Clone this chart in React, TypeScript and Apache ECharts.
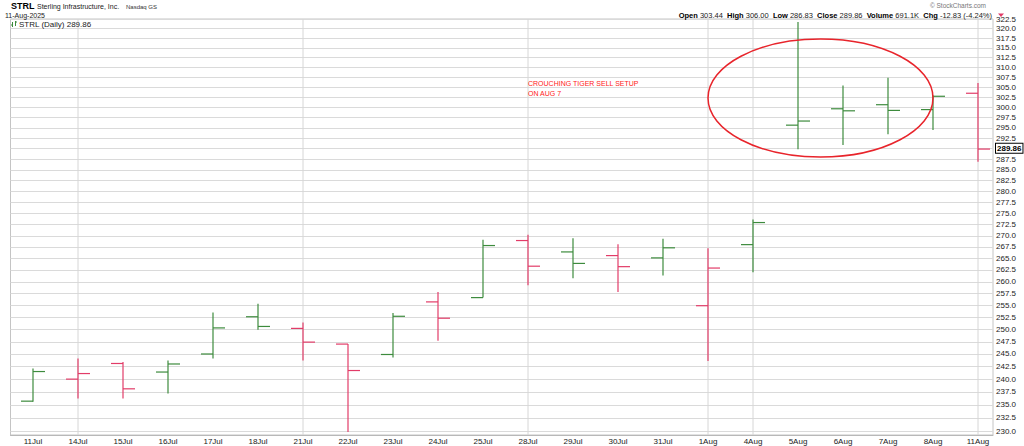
import React, { useEffect, useRef } from 'react';
import * as echarts from 'echarts';

const dates = ['11Jul', '14Jul', '15Jul', '16Jul', '17Jul', '18Jul', '21Jul', '22Jul', '23Jul', '24Jul', '25Jul', '28Jul', '29Jul', '30Jul', '31Jul', '1Aug', '4Aug', '5Aug', '6Aug', '7Aug', '8Aug', '11Aug'];
const opens = [235.7, 240.0, 243.1, 241.4, 245.0, 252.6, 250.2, 247.0, 244.9, 255.7, 256.6, 268.9, 266.4, 265.6, 265.1, 254.9, 268.0, 295.6, 299.6, 300.6, 299.4, 303.44];
const highs = [242.1, 244.1, 243.4, 243.7, 253.5, 255.3, 251.4, 247.0, 253.4, 257.8, 269.1, 270.2, 269.4, 268.1, 269.3, 267.2, 273.6, 321.7, 305.4, 307.3, 302.9, 306.0];
const lows = [235.6, 236.2, 236.2, 237.2, 244.1, 249.9, 243.7, 229.8, 244.3, 247.7, 256.6, 259.2, 260.7, 257.8, 261.3, 243.6, 262.0, 289.8, 290.8, 293.4, 294.4, 286.83];
const closes = [241.5, 241.1, 238.1, 243.0, 250.3, 250.6, 247.4, 241.7, 252.7, 252.3, 267.8, 263.3, 263.9, 263.2, 267.3, 262.9, 272.9, 296.6, 299.1, 299.2, 302.69, 289.86];

const priceTicks = [230, 232.5, 235, 237.5, 240, 242.5, 245, 247.5, 250, 252.5, 255, 257.5, 260, 262.5, 265, 267.5, 270, 272.5, 275, 277.5, 280, 282.5, 285, 287.5, 290, 292.5, 295, 297.5, 300, 302.5, 305, 307.5, 310, 312.5, 315, 317.5, 320, 322.5];
const hiddenTickLabels = [290];
const weekLineIdx = [1, 6, 11, 15, 16, 21];

const headerRich = '{b|Open} 303.44  {b|High} 306.00  {b|Low} 286.83  {b|Close} 289.86  {b|Volume} 691.1K  {b|Chg} -12.83 (-4.24%)';

const GREEN = '#3d8b3d';
const RED = '#e23c68';
const FONT = '"Liberation Sans", Arial, sans-serif';
const TICK = 12;

export default function App() {
  const ref = useRef<HTMLDivElement>(null);
  useEffect(() => {
    document.body.style.margin = '0';
    const chart = echarts.init(ref.current!, null, { renderer: 'svg' });
    const tickLogs = priceTicks.map((t) => Math.log(t));
    const labelLogs = priceTicks.filter((t) => hiddenTickLabels.indexOf(t) < 0).map((t) => Math.log(t));
    const last = closes[closes.length - 1];
    const xMin = -0.5;
    const xMax = -0.5 + 982.5 / 45;
    const yMin = Math.log(priceTicks[0]) - 0.00328;
    const yMax = Math.log(priceTicks[priceTicks.length - 1]);

    const bars = dates.map((d, i) => {
      const prev = i > 0 ? closes[i - 1] : opens[i];
      return [i, Math.log(opens[i]), Math.log(highs[i]), Math.log(lows[i]), Math.log(closes[i]), closes[i] >= prev ? 1 : 0, 0];
    });
    // grid rows: type flag 1 = horizontal price line, 2 = vertical week line
    const hRows = tickLogs.map((v) => [0, v, v, v, v, 0, 1]);
    const vRows = weekLineIdx.map((i) => [i, yMin, yMin, yMin, yMin, 0, 2]);

    chart.setOption({
      animation: false,
      backgroundColor: '#fff',
      textStyle: { fontFamily: FONT },
      grid: { left: 10.5, right: 31, top: 19, bottom: 11, show: true, borderColor: '#c4c4c4', borderWidth: 1, backgroundColor: 'transparent' },
      xAxis: {
        type: 'value',
        min: xMin,
        max: xMax,
        axisLine: { show: true, onZero: false, lineStyle: { color: '#b8b8b8' } },
        axisTick: { show: false },
        splitLine: { show: false },
        axisLabel: {
          customValues: dates.map((d, i) => i),
          formatter: (v: number) => dates[Math.round(v)],
          fontSize: 8,
          color: '#222',
          margin: 2,
          fontFamily: FONT,
        },
      },
      yAxis: {
        type: 'value',
        position: 'right',
        min: yMin,
        max: yMax,
        axisLine: { show: false },
        axisTick: { show: false },
        splitLine: { show: false },
        axisLabel: {
          customValues: labelLogs,
          formatter: (v: number) => Math.exp(v).toFixed(1),
          fontSize: 8,
          color: '#222',
          margin: 3,
          fontFamily: FONT,
        },
      },
      series: [
        {
          type: 'custom',
          silent: true,
          clip: false,
          z: 1,
          data: [...hRows, ...vRows],
          encode: { x: 0, y: 1 },
          renderItem: (params: any, api: any) => {
            const kind = api.value(6);
            if (kind === 1) {
              const a = api.coord([xMin, api.value(1)]);
              const b = api.coord([xMax, api.value(1)]);
              const y = Math.round(a[1]) + 0.5;
              return { type: 'line', shape: { x1: a[0], y1: y, x2: b[0], y2: y }, style: { stroke: '#dadada', lineWidth: 1 } };
            }
            const a = api.coord([api.value(0), yMin]);
            const b = api.coord([api.value(0), yMax]);
            return { type: 'line', shape: { x1: a[0], y1: a[1], x2: b[0], y2: b[1] }, style: { stroke: '#d6d6d6', lineWidth: 1 } };
          },
        },
        {
          type: 'custom',
          data: bars,
          z: 3,
          encode: { x: 0, y: [1, 2, 3, 4] },
          renderItem: (params: any, api: any) => {
            const x = api.value(0);
            const pO = api.coord([x, api.value(1)]);
            const pH = api.coord([x, api.value(2)]);
            const pL = api.coord([x, api.value(3)]);
            const pC = api.coord([x, api.value(4)]);
            const color = api.value(5) ? GREEN : RED;
            const style = { stroke: color, lineWidth: 1.2 };
            return {
              type: 'group',
              children: [
                { type: 'line', shape: { x1: pH[0], y1: pH[1], x2: pL[0], y2: pL[1] }, style },
                { type: 'line', shape: { x1: pO[0] - TICK, y1: pO[1], x2: pO[0], y2: pO[1] }, style },
                { type: 'line', shape: { x1: pC[0], y1: pC[1], x2: pC[0] + TICK, y2: pC[1] }, style },
              ],
            };
          },
          markLine: {
            silent: true,
            z: 10,
            symbol: ['none', 'none'],
            lineStyle: { color: 'rgba(0,0,0,0)', width: 0 },
            label: {
              show: true,
              position: 'end',
              formatter: last.toFixed(2),
              distance: 3,
              fontSize: 8,
              fontWeight: 'bold',
              color: '#000',
              backgroundColor: '#fff',
              borderColor: '#000',
              borderWidth: 1,
              padding: [1, 1, 0, 1],
              fontFamily: FONT,
            },
            data: [{ yAxis: Math.log(last) }],
          },
        },
      ],
      graphic: [
        { type: 'text', x: 11, y: 6, z: 100, style: { text: 'STRL', fontSize: 9, fontWeight: 'bold', fontFamily: FONT, fill: '#000', verticalAlign: 'middle' } },
        { type: 'text', x: 37, y: 6.5, z: 100, style: { text: 'Sterling Infrastructure, Inc.', fontSize: 7, fontFamily: FONT, fill: '#222', verticalAlign: 'middle' } },
        { type: 'text', x: 126, y: 6.5, z: 100, style: { text: 'Nasdaq GS', fontSize: 6, fontFamily: FONT, fill: '#333', verticalAlign: 'middle' } },
        { type: 'text', x: 5, y: 15, z: 100, style: { text: '11-Aug-2025', fontSize: 7, fontFamily: FONT, fill: '#222', verticalAlign: 'middle' } },
        { type: 'text', x: 986, y: 5, z: 100, style: { text: '© StockCharts.com', fontSize: 6.5, fontFamily: FONT, fill: '#777', align: 'right', verticalAlign: 'middle' } },
        {
          type: 'text', x: 992, y: 15, z: 100,
          style: {
            text: headerRich, fontSize: 7.5, fontFamily: FONT, fill: '#222', align: 'right', verticalAlign: 'middle',
            rich: { b: { fontSize: 7.5, fontWeight: 'bold', fontFamily: FONT, fill: '#000' } },
          },
        },
        { type: 'polygon', z: 100, shape: { points: [[998, 13.5], [1004, 13.5], [1001, 17]] }, style: { fill: RED } },
        { type: 'line', z: 100, shape: { x1: 12.5, y1: 22, x2: 12.5, y2: 27 }, style: { stroke: GREEN, lineWidth: 1 } },
        { type: 'line', z: 100, shape: { x1: 11, y1: 25, x2: 12.5, y2: 25 }, style: { stroke: GREEN, lineWidth: 1 } },
        { type: 'line', z: 100, shape: { x1: 15.5, y1: 21, x2: 15.5, y2: 26 }, style: { stroke: GREEN, lineWidth: 1 } },
        { type: 'line', z: 100, shape: { x1: 15.5, y1: 22, x2: 17, y2: 22 }, style: { stroke: GREEN, lineWidth: 1 } },
        { type: 'text', x: 19, y: 24, z: 100, style: { text: 'STRL (Daily) 289.86', fontSize: 8, fontFamily: FONT, fill: '#222', verticalAlign: 'middle' } },
        { type: 'ellipse', z: 100, shape: { cx: 820.5, cy: 98, rx: 112.5, ry: 59 }, style: { fill: 'none', stroke: '#e8242b', lineWidth: 1.5 } },
        { type: 'text', x: 528, y: 79, z: 100, style: { text: 'CROUCHING TIGER SELL SETUP\nON AUG 7', fontSize: 7, lineHeight: 9.5, fontFamily: FONT, fill: '#ff2020' } },
      ],
    });
    return () => chart.dispose();
  }, []);
  return <div ref={ref} style={{ position: 'absolute', left: 0, top: 0, width: 1024, height: 446 }} />;
}
